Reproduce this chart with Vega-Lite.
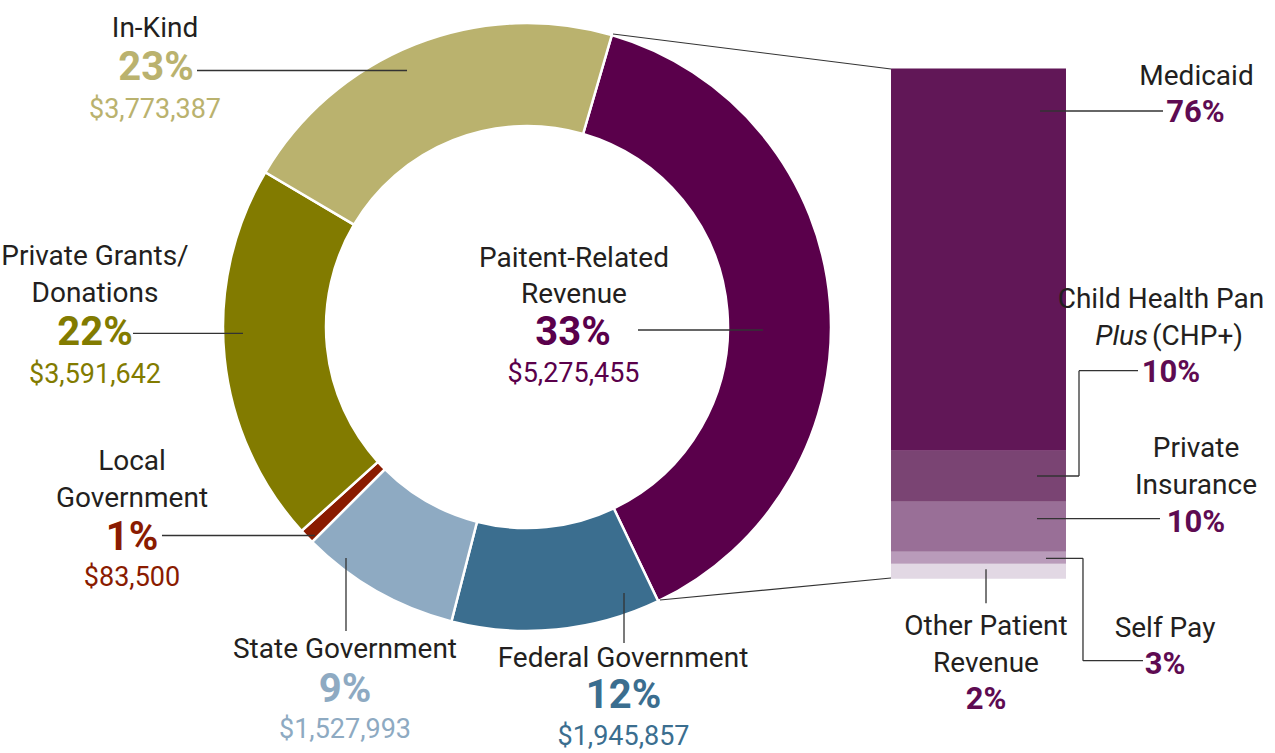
{
"$schema": "https://vega.github.io/schema/vega-lite/v6.json",
"width": 1275, "height": 753, "autosize": "none", "padding": 0, "background": "white",
"config": {"view": {"stroke": null}, "text": {"font": "Roboto", "align": "center", "baseline": "alphabetic", "lineBreak": "\n", "lineHeight": 37}, "rule": {"color": "#333333", "strokeWidth": 1.3}},
"datasets": {
"sources": [
{"k":1,"source":"Paitent-Related Revenue","label":"Paitent-Related\nRevenue","share":38.4,"pct":"33%","amount":"$5,275,455"},
{"k":2,"source":"Federal Government","label":"Federal Government","share":11.1,"pct":"12%","amount":"$1,945,857"},
{"k":3,"source":"State Government","label":"State Government","share":8.5,"pct":"9%","amount":"$1,527,993"},
{"k":4,"source":"Local Government","label":"Local\nGovernment","share":0.8,"pct":"1%","amount":"$83,500"},
{"k":5,"source":"Private Grants/Donations","label":"Private Grants/\nDonations","share":20.2,"pct":"22%","amount":"$3,591,642"},
{"k":6,"source":"In-Kind","label":"In-Kind","share":21.0,"pct":"23%","amount":"$3,773,387"}
],
"patient": [
{"k":1,"payer":"Other Patient Revenue","label":"Other Patient\nRevenue","share":2.95,"pct":"2%"},
{"k":2,"payer":"Self Pay","label":"Self Pay","share":2.35,"pct":"3%"},
{"k":3,"payer":"Private Insurance","label":"Private\nInsurance","share":9.8,"pct":"10%"},
{"k":4,"payer":"Child Health Pan Plus (CHP+)","label":"Child Health Pan","label_italic":"Plus","label_tail":"(CHP+)","share":10.0,"pct":"10%"},
{"k":5,"payer":"Medicaid","label":"Medicaid","share":74.9,"pct":"76%"}
]
},
"resolve": {"scale": {"y": "independent", "color": "independent"}},
"layer": [
{"data":{"name":"patient"},
 "transform":[{"stack":"share","groupby":[],"sort":[{"field":"k","order":"ascending"}],"as":["b0","b1"]}],
 "mark":{"type":"rect"},
 "encoding":{
  "x":{"datum":1.1974,"type":"quantitative","scale":{"domain":[-1.73355,2.46053],"nice":false,"zero":false},"axis":null},
  "x2":{"datum":1.7730},
  "y":{"field":"b0","type":"quantitative","scale":{"domain":[-34.165,113.424],"nice":false,"zero":false},"axis":null},
  "y2":{"field":"b1"},
  "color":{"field":"payer","type":"nominal","scale":{"domain":["Medicaid","Child Health Pan Plus (CHP+)","Private Insurance","Self Pay","Other Patient Revenue"],"range":["#611757","#7a4473","#996f97","#b99bba","#e2d8e4"]},"legend":null}
 }},
{"layer": [
{"data":{"name":"sources"},
 "transform":[{"stack":"share","groupby":[],"sort":[{"field":"k","order":"ascending"}],"as":["a0","a1"]}],
 "mark":{"type":"arc","radius":304,"radius2":201,"stroke":"white","strokeWidth":2.5},
 "encoding":{
  "x":{"datum":0,"type":"quantitative","scale":{"domain":[-1.73355,2.46053],"nice":false,"zero":false},"axis":null},
  "y":{"datum":0,"type":"quantitative","scale":{"domain":[-1.40132,1.07566],"nice":false,"zero":false},"axis":null},
  "theta":{"field":"a0","type":"quantitative","scale":{"domain":[0,100],"range":[0.2827,6.5659]}},
  "theta2":{"field":"a1"},
  "color":{"field":"source","type":"nominal","scale":{"domain":["Paitent-Related Revenue","Federal Government","State Government","Local Government","Private Grants/Donations","In-Kind"],"range":["#5a004b","#3b6e8f","#8eaac2","#8a1b00","#827b00","#bab26e"]},"legend":null}
 }},

{"data":{"name":"sources"},"transform":[{"filter":{"field":"source","equal":"In-Kind"}}],"mark":{"type":"rule"},"encoding":{"x":{"datum":-1.0855,"type":"quantitative","scale":{"domain":[-1.73355,2.46053],"nice":false,"zero":false},"axis":null},"x2":{"datum":-0.3947},"y":{"datum":0.8438,"type":"quantitative","scale":{"domain":[-1.40132,1.07566],"nice":false,"zero":false},"axis":null}}},
{"data":{"name":"sources"},"transform":[{"filter":{"field":"source","equal":"Private Grants/Donations"}}],"mark":{"type":"rule"},"encoding":{"x":{"datum":-1.2961,"type":"quantitative","scale":{"domain":[-1.73355,2.46053],"nice":false,"zero":false},"axis":null},"x2":{"datum":-0.9342},"y":{"datum":-0.0207,"type":"quantitative","scale":{"domain":[-1.40132,1.07566],"nice":false,"zero":false},"axis":null}}},
{"data":{"name":"sources"},"transform":[{"filter":{"field":"source","equal":"Local Government"}}],"mark":{"type":"rule"},"encoding":{"x":{"datum":-1.2007,"type":"quantitative","scale":{"domain":[-1.73355,2.46053],"nice":false,"zero":false},"axis":null},"x2":{"datum":-0.6974},"y":{"datum":-0.6859,"type":"quantitative","scale":{"domain":[-1.40132,1.07566],"nice":false,"zero":false},"axis":null}}},
{"data":{"name":"sources"},"transform":[{"filter":{"field":"source","equal":"State Government"}}],"mark":{"type":"rule"},"encoding":{"x":{"datum":-0.5954,"type":"quantitative","scale":{"domain":[-1.73355,2.46053],"nice":false,"zero":false},"axis":null},"y":{"datum":-0.7599,"type":"quantitative","scale":{"domain":[-1.40132,1.07566],"nice":false,"zero":false},"axis":null},"y2":{"datum":-1.0}}},
{"data":{"name":"sources"},"transform":[{"filter":{"field":"source","equal":"Federal Government"}}],"mark":{"type":"rule"},"encoding":{"x":{"datum":0.3191,"type":"quantitative","scale":{"domain":[-1.73355,2.46053],"nice":false,"zero":false},"axis":null},"y":{"datum":-0.8750,"type":"quantitative","scale":{"domain":[-1.40132,1.07566],"nice":false,"zero":false},"axis":null},"y2":{"datum":-1.0395}}},
{"data":{"name":"sources"},"transform":[{"filter":{"field":"source","equal":"Paitent-Related Revenue"}}],"mark":{"type":"rule"},"encoding":{"x":{"datum":0.3651,"type":"quantitative","scale":{"domain":[-1.73355,2.46053],"nice":false,"zero":false},"axis":null},"x2":{"datum":0.7763},"y":{"datum":-0.0099,"type":"quantitative","scale":{"domain":[-1.40132,1.07566],"nice":false,"zero":false},"axis":null}}},
{"data":{"name":"sources"},"transform":[{"filter":{"field":"source","equal":"Paitent-Related Revenue"}}],"mark":{"type":"rule","strokeWidth":1.2},"encoding":{"x":{"datum":0.2829,"type":"quantitative","scale":{"domain":[-1.73355,2.46053],"nice":false,"zero":false},"axis":null},"x2":{"datum":1.1974},"y":{"datum":0.9638,"type":"quantitative","scale":{"domain":[-1.40132,1.07566],"nice":false,"zero":false},"axis":null},"y2":{"datum":0.8487}}},
{"data":{"name":"sources"},"transform":[{"filter":{"field":"source","equal":"Paitent-Related Revenue"}}],"mark":{"type":"rule","strokeWidth":1.2},"encoding":{"x":{"datum":0.4375,"type":"quantitative","scale":{"domain":[-1.73355,2.46053],"nice":false,"zero":false},"axis":null},"x2":{"datum":1.1974},"y":{"datum":-0.8980,"type":"quantitative","scale":{"domain":[-1.40132,1.07566],"nice":false,"zero":false},"axis":null},"y2":{"datum":-0.8257}}},

{"data":{"name":"sources"},"transform":[{"filter":{"field":"source","equal":"In-Kind"}}],"mark":{"type":"text","fontSize":28,"color":"#231f20"},"encoding":{"x":{"datum":-1.2237,"type":"quantitative","scale":{"domain":[-1.73355,2.46053],"nice":false,"zero":false},"axis":null},"y":{"datum":0.9539,"type":"quantitative","scale":{"domain":[-1.40132,1.07566],"nice":false,"zero":false},"axis":null},"text":{"field":"label"}}},
{"data":{"name":"sources"},"transform":[{"filter":{"field":"source","equal":"In-Kind"}}],"mark":{"type":"text","fontSize":40,"fontWeight":"bold"},"encoding":{"x":{"datum":-1.2204,"type":"quantitative","scale":{"domain":[-1.73355,2.46053],"nice":false,"zero":false},"axis":null},"y":{"datum":0.8125,"type":"quantitative","scale":{"domain":[-1.40132,1.07566],"nice":false,"zero":false},"axis":null},"text":{"field":"pct"},"color":{"field":"source","type":"nominal","scale":{"domain":["Paitent-Related Revenue","Federal Government","State Government","Local Government","Private Grants/Donations","In-Kind"],"range":["#5a004b","#3b6e8f","#8eaac2","#8a1b00","#827b00","#bab26e"]},"legend":null}}},
{"data":{"name":"sources"},"transform":[{"filter":{"field":"source","equal":"In-Kind"}}],"mark":{"type":"text","fontSize":27},"encoding":{"x":{"datum":-1.2237,"type":"quantitative","scale":{"domain":[-1.73355,2.46053],"nice":false,"zero":false},"axis":null},"y":{"datum":0.6875,"type":"quantitative","scale":{"domain":[-1.40132,1.07566],"nice":false,"zero":false},"axis":null},"text":{"field":"amount"},"color":{"field":"source","type":"nominal","scale":{"domain":["Paitent-Related Revenue","Federal Government","State Government","Local Government","Private Grants/Donations","In-Kind"],"range":["#5a004b","#3b6e8f","#8eaac2","#8a1b00","#827b00","#bab26e"]},"legend":null}}},

{"data":{"name":"sources"},"transform":[{"filter":{"field":"source","equal":"Private Grants/Donations"}}],"mark":{"type":"text","fontSize":28,"color":"#231f20"},"encoding":{"x":{"datum":-1.4211,"type":"quantitative","scale":{"domain":[-1.73355,2.46053],"nice":false,"zero":false},"axis":null},"y":{"datum":0.2039,"type":"quantitative","scale":{"domain":[-1.40132,1.07566],"nice":false,"zero":false},"axis":null},"text":{"field":"label"}}},
{"data":{"name":"sources"},"transform":[{"filter":{"field":"source","equal":"Private Grants/Donations"}}],"mark":{"type":"text","fontSize":40,"fontWeight":"bold"},"encoding":{"x":{"datum":-1.4211,"type":"quantitative","scale":{"domain":[-1.73355,2.46053],"nice":false,"zero":false},"axis":null},"y":{"datum":-0.0592,"type":"quantitative","scale":{"domain":[-1.40132,1.07566],"nice":false,"zero":false},"axis":null},"text":{"field":"pct"},"color":{"field":"source","type":"nominal","scale":{"domain":["Paitent-Related Revenue","Federal Government","State Government","Local Government","Private Grants/Donations","In-Kind"],"range":["#5a004b","#3b6e8f","#8eaac2","#8a1b00","#827b00","#bab26e"]},"legend":null}}},
{"data":{"name":"sources"},"transform":[{"filter":{"field":"source","equal":"Private Grants/Donations"}}],"mark":{"type":"text","fontSize":27},"encoding":{"x":{"datum":-1.4211,"type":"quantitative","scale":{"domain":[-1.73355,2.46053],"nice":false,"zero":false},"axis":null},"y":{"datum":-0.1842,"type":"quantitative","scale":{"domain":[-1.40132,1.07566],"nice":false,"zero":false},"axis":null},"text":{"field":"amount"},"color":{"field":"source","type":"nominal","scale":{"domain":["Paitent-Related Revenue","Federal Government","State Government","Local Government","Private Grants/Donations","In-Kind"],"range":["#5a004b","#3b6e8f","#8eaac2","#8a1b00","#827b00","#bab26e"]},"legend":null}}},

{"data":{"name":"sources"},"transform":[{"filter":{"field":"source","equal":"Local Government"}}],"mark":{"type":"text","fontSize":28,"color":"#231f20"},"encoding":{"x":{"datum":-1.2993,"type":"quantitative","scale":{"domain":[-1.73355,2.46053],"nice":false,"zero":false},"axis":null},"y":{"datum":-0.4704,"type":"quantitative","scale":{"domain":[-1.40132,1.07566],"nice":false,"zero":false},"axis":null},"text":{"field":"label"}}},
{"data":{"name":"sources"},"transform":[{"filter":{"field":"source","equal":"Local Government"}}],"mark":{"type":"text","fontSize":40,"fontWeight":"bold"},"encoding":{"x":{"datum":-1.2993,"type":"quantitative","scale":{"domain":[-1.73355,2.46053],"nice":false,"zero":false},"axis":null},"y":{"datum":-0.7336,"type":"quantitative","scale":{"domain":[-1.40132,1.07566],"nice":false,"zero":false},"axis":null},"text":{"field":"pct"},"color":{"field":"source","type":"nominal","scale":{"domain":["Paitent-Related Revenue","Federal Government","State Government","Local Government","Private Grants/Donations","In-Kind"],"range":["#5a004b","#3b6e8f","#8eaac2","#8a1b00","#827b00","#bab26e"]},"legend":null}}},
{"data":{"name":"sources"},"transform":[{"filter":{"field":"source","equal":"Local Government"}}],"mark":{"type":"text","fontSize":27},"encoding":{"x":{"datum":-1.2993,"type":"quantitative","scale":{"domain":[-1.73355,2.46053],"nice":false,"zero":false},"axis":null},"y":{"datum":-0.8520,"type":"quantitative","scale":{"domain":[-1.40132,1.07566],"nice":false,"zero":false},"axis":null},"text":{"field":"amount"},"color":{"field":"source","type":"nominal","scale":{"domain":["Paitent-Related Revenue","Federal Government","State Government","Local Government","Private Grants/Donations","In-Kind"],"range":["#5a004b","#3b6e8f","#8eaac2","#8a1b00","#827b00","#bab26e"]},"legend":null}}},

{"data":{"name":"sources"},"transform":[{"filter":{"field":"source","equal":"State Government"}}],"mark":{"type":"text","fontSize":28,"color":"#231f20"},"encoding":{"x":{"datum":-0.5987,"type":"quantitative","scale":{"domain":[-1.73355,2.46053],"nice":false,"zero":false},"axis":null},"y":{"datum":-1.0888,"type":"quantitative","scale":{"domain":[-1.40132,1.07566],"nice":false,"zero":false},"axis":null},"text":{"field":"label"}}},
{"data":{"name":"sources"},"transform":[{"filter":{"field":"source","equal":"State Government"}}],"mark":{"type":"text","fontSize":40,"fontWeight":"bold"},"encoding":{"x":{"datum":-0.5987,"type":"quantitative","scale":{"domain":[-1.73355,2.46053],"nice":false,"zero":false},"axis":null},"y":{"datum":-1.2326,"type":"quantitative","scale":{"domain":[-1.40132,1.07566],"nice":false,"zero":false},"axis":null},"text":{"field":"pct"},"color":{"field":"source","type":"nominal","scale":{"domain":["Paitent-Related Revenue","Federal Government","State Government","Local Government","Private Grants/Donations","In-Kind"],"range":["#5a004b","#3b6e8f","#8eaac2","#8a1b00","#827b00","#bab26e"]},"legend":null}}},
{"data":{"name":"sources"},"transform":[{"filter":{"field":"source","equal":"State Government"}}],"mark":{"type":"text","fontSize":27},"encoding":{"x":{"datum":-0.5987,"type":"quantitative","scale":{"domain":[-1.73355,2.46053],"nice":false,"zero":false},"axis":null},"y":{"datum":-1.3520,"type":"quantitative","scale":{"domain":[-1.40132,1.07566],"nice":false,"zero":false},"axis":null},"text":{"field":"amount"},"color":{"field":"source","type":"nominal","scale":{"domain":["Paitent-Related Revenue","Federal Government","State Government","Local Government","Private Grants/Donations","In-Kind"],"range":["#5a004b","#3b6e8f","#8eaac2","#8a1b00","#827b00","#bab26e"]},"legend":null}}},

{"data":{"name":"sources"},"transform":[{"filter":{"field":"source","equal":"Federal Government"}}],"mark":{"type":"text","fontSize":28,"color":"#231f20"},"encoding":{"x":{"datum":0.3158,"type":"quantitative","scale":{"domain":[-1.73355,2.46053],"nice":false,"zero":false},"axis":null},"y":{"datum":-1.1184,"type":"quantitative","scale":{"domain":[-1.40132,1.07566],"nice":false,"zero":false},"axis":null},"text":{"field":"label"}}},
{"data":{"name":"sources"},"transform":[{"filter":{"field":"source","equal":"Federal Government"}}],"mark":{"type":"text","fontSize":40,"fontWeight":"bold"},"encoding":{"x":{"datum":0.3174,"type":"quantitative","scale":{"domain":[-1.73355,2.46053],"nice":false,"zero":false},"axis":null},"y":{"datum":-1.2520,"type":"quantitative","scale":{"domain":[-1.40132,1.07566],"nice":false,"zero":false},"axis":null},"text":{"field":"pct"},"color":{"field":"source","type":"nominal","scale":{"domain":["Paitent-Related Revenue","Federal Government","State Government","Local Government","Private Grants/Donations","In-Kind"],"range":["#5a004b","#3b6e8f","#8eaac2","#8a1b00","#827b00","#bab26e"]},"legend":null}}},
{"data":{"name":"sources"},"transform":[{"filter":{"field":"source","equal":"Federal Government"}}],"mark":{"type":"text","fontSize":27},"encoding":{"x":{"datum":0.3174,"type":"quantitative","scale":{"domain":[-1.73355,2.46053],"nice":false,"zero":false},"axis":null},"y":{"datum":-1.3750,"type":"quantitative","scale":{"domain":[-1.40132,1.07566],"nice":false,"zero":false},"axis":null},"text":{"field":"amount"},"color":{"field":"source","type":"nominal","scale":{"domain":["Paitent-Related Revenue","Federal Government","State Government","Local Government","Private Grants/Donations","In-Kind"],"range":["#5a004b","#3b6e8f","#8eaac2","#8a1b00","#827b00","#bab26e"]},"legend":null}}},

{"data":{"name":"sources"},"transform":[{"filter":{"field":"source","equal":"Paitent-Related Revenue"}}],"mark":{"type":"text","fontSize":28,"color":"#231f20","lineHeight":36},"encoding":{"x":{"datum":0.1546,"type":"quantitative","scale":{"domain":[-1.73355,2.46053],"nice":false,"zero":false},"axis":null},"y":{"datum":0.1974,"type":"quantitative","scale":{"domain":[-1.40132,1.07566],"nice":false,"zero":false},"axis":null},"text":{"field":"label"}}},
{"data":{"name":"sources"},"transform":[{"filter":{"field":"source","equal":"Paitent-Related Revenue"}}],"mark":{"type":"text","fontSize":40,"fontWeight":"bold"},"encoding":{"x":{"datum":0.1513,"type":"quantitative","scale":{"domain":[-1.73355,2.46053],"nice":false,"zero":false},"axis":null},"y":{"datum":-0.0592,"type":"quantitative","scale":{"domain":[-1.40132,1.07566],"nice":false,"zero":false},"axis":null},"text":{"field":"pct"},"color":{"field":"source","type":"nominal","scale":{"domain":["Paitent-Related Revenue","Federal Government","State Government","Local Government","Private Grants/Donations","In-Kind"],"range":["#5a004b","#3b6e8f","#8eaac2","#8a1b00","#827b00","#bab26e"]},"legend":null}}},
{"data":{"name":"sources"},"transform":[{"filter":{"field":"source","equal":"Paitent-Related Revenue"}}],"mark":{"type":"text","fontSize":27},"encoding":{"x":{"datum":0.1530,"type":"quantitative","scale":{"domain":[-1.73355,2.46053],"nice":false,"zero":false},"axis":null},"y":{"datum":-0.1809,"type":"quantitative","scale":{"domain":[-1.40132,1.07566],"nice":false,"zero":false},"axis":null},"text":{"field":"amount"},"color":{"field":"source","type":"nominal","scale":{"domain":["Paitent-Related Revenue","Federal Government","State Government","Local Government","Private Grants/Donations","In-Kind"],"range":["#5a004b","#3b6e8f","#8eaac2","#8a1b00","#827b00","#bab26e"]},"legend":null}}},

{"data":{"name":"patient"},"transform":[{"filter":{"field":"payer","equal":"Medicaid"}}],"mark":{"type":"rule"},"encoding":{"x":{"datum":1.6875,"type":"quantitative","scale":{"domain":[-1.73355,2.46053],"nice":false,"zero":false},"axis":null},"x2":{"datum":2.0921},"y":{"datum":0.7105,"type":"quantitative","scale":{"domain":[-1.40132,1.07566],"nice":false,"zero":false},"axis":null}}},
{"data":{"name":"patient"},"transform":[{"filter":{"field":"payer","equal":"Child Health Pan Plus (CHP+)"}}],"mark":{"type":"rule"},"encoding":{"x":{"datum":1.6776,"type":"quantitative","scale":{"domain":[-1.73355,2.46053],"nice":false,"zero":false},"axis":null},"x2":{"datum":1.8158},"y":{"datum":-0.4901,"type":"quantitative","scale":{"domain":[-1.40132,1.07566],"nice":false,"zero":false},"axis":null}}},
{"data":{"name":"patient"},"transform":[{"filter":{"field":"payer","equal":"Child Health Pan Plus (CHP+)"}}],"mark":{"type":"rule"},"encoding":{"x":{"datum":1.8158,"type":"quantitative","scale":{"domain":[-1.73355,2.46053],"nice":false,"zero":false},"axis":null},"y":{"datum":-0.4901,"type":"quantitative","scale":{"domain":[-1.40132,1.07566],"nice":false,"zero":false},"axis":null},"y2":{"datum":-0.1438}}},
{"data":{"name":"patient"},"transform":[{"filter":{"field":"payer","equal":"Child Health Pan Plus (CHP+)"}}],"mark":{"type":"rule"},"encoding":{"x":{"datum":1.8158,"type":"quantitative","scale":{"domain":[-1.73355,2.46053],"nice":false,"zero":false},"axis":null},"x2":{"datum":2.0099},"y":{"datum":-0.1438,"type":"quantitative","scale":{"domain":[-1.40132,1.07566],"nice":false,"zero":false},"axis":null}}},
{"data":{"name":"patient"},"transform":[{"filter":{"field":"payer","equal":"Private Insurance"}}],"mark":{"type":"rule"},"encoding":{"x":{"datum":1.6776,"type":"quantitative","scale":{"domain":[-1.73355,2.46053],"nice":false,"zero":false},"axis":null},"x2":{"datum":2.0822},"y":{"datum":-0.6306,"type":"quantitative","scale":{"domain":[-1.40132,1.07566],"nice":false,"zero":false},"axis":null}}},
{"data":{"name":"patient"},"transform":[{"filter":{"field":"payer","equal":"Self Pay"}}],"mark":{"type":"rule"},"encoding":{"x":{"datum":1.7072,"type":"quantitative","scale":{"domain":[-1.73355,2.46053],"nice":false,"zero":false},"axis":null},"x2":{"datum":1.8289},"y":{"datum":-0.7609,"type":"quantitative","scale":{"domain":[-1.40132,1.07566],"nice":false,"zero":false},"axis":null}}},
{"data":{"name":"patient"},"transform":[{"filter":{"field":"payer","equal":"Self Pay"}}],"mark":{"type":"rule"},"encoding":{"x":{"datum":1.8289,"type":"quantitative","scale":{"domain":[-1.73355,2.46053],"nice":false,"zero":false},"axis":null},"y":{"datum":-0.7609,"type":"quantitative","scale":{"domain":[-1.40132,1.07566],"nice":false,"zero":false},"axis":null},"y2":{"datum":-1.0977}}},
{"data":{"name":"patient"},"transform":[{"filter":{"field":"payer","equal":"Self Pay"}}],"mark":{"type":"rule"},"encoding":{"x":{"datum":1.8289,"type":"quantitative","scale":{"domain":[-1.73355,2.46053],"nice":false,"zero":false},"axis":null},"x2":{"datum":2.0263},"y":{"datum":-1.0977,"type":"quantitative","scale":{"domain":[-1.40132,1.07566],"nice":false,"zero":false},"axis":null}}},
{"data":{"name":"patient"},"transform":[{"filter":{"field":"payer","equal":"Other Patient Revenue"}}],"mark":{"type":"rule"},"encoding":{"x":{"datum":1.5099,"type":"quantitative","scale":{"domain":[-1.73355,2.46053],"nice":false,"zero":false},"axis":null},"y":{"datum":-0.7970,"type":"quantitative","scale":{"domain":[-1.40132,1.07566],"nice":false,"zero":false},"axis":null},"y2":{"datum":-0.9089}}},

{"data":{"name":"patient"},"transform":[{"filter":{"field":"payer","equal":"Medicaid"}}],"mark":{"type":"text","fontSize":28,"color":"#231f20"},"encoding":{"x":{"datum":2.2023,"type":"quantitative","scale":{"domain":[-1.73355,2.46053],"nice":false,"zero":false},"axis":null},"y":{"datum":0.7961,"type":"quantitative","scale":{"domain":[-1.40132,1.07566],"nice":false,"zero":false},"axis":null},"text":{"field":"label"}}},
{"data":{"name":"patient"},"transform":[{"filter":{"field":"payer","equal":"Medicaid"}}],"mark":{"type":"text","fontSize":31,"fontWeight":"bold","color":"#5e0b52"},"encoding":{"x":{"datum":2.1990,"type":"quantitative","scale":{"domain":[-1.73355,2.46053],"nice":false,"zero":false},"axis":null},"y":{"datum":0.6753,"type":"quantitative","scale":{"domain":[-1.40132,1.07566],"nice":false,"zero":false},"axis":null},"text":{"field":"pct"}}},

{"data":{"name":"patient"},"transform":[{"filter":{"field":"payer","equal":"Child Health Pan Plus (CHP+)"}}],"mark":{"type":"text","fontSize":28,"color":"#231f20"},"encoding":{"x":{"datum":2.0855,"type":"quantitative","scale":{"domain":[-1.73355,2.46053],"nice":false,"zero":false},"axis":null},"y":{"datum":0.0625,"type":"quantitative","scale":{"domain":[-1.40132,1.07566],"nice":false,"zero":false},"axis":null},"text":{"field":"label"}}},
{"data":{"name":"patient"},"transform":[{"filter":{"field":"payer","equal":"Child Health Pan Plus (CHP+)"}}],"mark":{"type":"text","fontSize":28,"color":"#231f20","fontStyle":"italic","align":"right"},"encoding":{"x":{"datum":2.0428,"type":"quantitative","scale":{"domain":[-1.73355,2.46053],"nice":false,"zero":false},"axis":null},"y":{"datum":-0.0592,"type":"quantitative","scale":{"domain":[-1.40132,1.07566],"nice":false,"zero":false},"axis":null},"text":{"field":"label_italic"}}},
{"data":{"name":"patient"},"transform":[{"filter":{"field":"payer","equal":"Child Health Pan Plus (CHP+)"}}],"mark":{"type":"text","fontSize":28,"color":"#231f20","align":"left"},"encoding":{"x":{"datum":2.0559,"type":"quantitative","scale":{"domain":[-1.73355,2.46053],"nice":false,"zero":false},"axis":null},"y":{"datum":-0.0592,"type":"quantitative","scale":{"domain":[-1.40132,1.07566],"nice":false,"zero":false},"axis":null},"text":{"field":"label_tail"}}},
{"data":{"name":"patient"},"transform":[{"filter":{"field":"payer","equal":"Child Health Pan Plus (CHP+)"}}],"mark":{"type":"text","fontSize":31,"fontWeight":"bold","color":"#5e0b52"},"encoding":{"x":{"datum":2.1184,"type":"quantitative","scale":{"domain":[-1.73355,2.46053],"nice":false,"zero":false},"axis":null},"y":{"datum":-0.1799,"type":"quantitative","scale":{"domain":[-1.40132,1.07566],"nice":false,"zero":false},"axis":null},"text":{"field":"pct"}}},

{"data":{"name":"patient"},"transform":[{"filter":{"field":"payer","equal":"Private Insurance"}}],"mark":{"type":"text","fontSize":28,"color":"#231f20"},"encoding":{"x":{"datum":2.2007,"type":"quantitative","scale":{"domain":[-1.73355,2.46053],"nice":false,"zero":false},"axis":null},"y":{"datum":-0.4276,"type":"quantitative","scale":{"domain":[-1.40132,1.07566],"nice":false,"zero":false},"axis":null},"text":{"field":"label"}}},
{"data":{"name":"patient"},"transform":[{"filter":{"field":"payer","equal":"Private Insurance"}}],"mark":{"type":"text","fontSize":31,"fontWeight":"bold","color":"#5e0b52"},"encoding":{"x":{"datum":2.2007,"type":"quantitative","scale":{"domain":[-1.73355,2.46053],"nice":false,"zero":false},"axis":null},"y":{"datum":-0.6734,"type":"quantitative","scale":{"domain":[-1.40132,1.07566],"nice":false,"zero":false},"axis":null},"text":{"field":"pct"}}},

{"data":{"name":"patient"},"transform":[{"filter":{"field":"payer","equal":"Self Pay"}}],"mark":{"type":"text","fontSize":28,"color":"#231f20"},"encoding":{"x":{"datum":2.0987,"type":"quantitative","scale":{"domain":[-1.73355,2.46053],"nice":false,"zero":false},"axis":null},"y":{"datum":-1.0188,"type":"quantitative","scale":{"domain":[-1.40132,1.07566],"nice":false,"zero":false},"axis":null},"text":{"field":"label"}}},
{"data":{"name":"patient"},"transform":[{"filter":{"field":"payer","equal":"Self Pay"}}],"mark":{"type":"text","fontSize":31,"fontWeight":"bold","color":"#5e0b52"},"encoding":{"x":{"datum":2.0987,"type":"quantitative","scale":{"domain":[-1.73355,2.46053],"nice":false,"zero":false},"axis":null},"y":{"datum":-1.1414,"type":"quantitative","scale":{"domain":[-1.40132,1.07566],"nice":false,"zero":false},"axis":null},"text":{"field":"pct"}}},

{"data":{"name":"patient"},"transform":[{"filter":{"field":"payer","equal":"Other Patient Revenue"}}],"mark":{"type":"text","fontSize":28,"color":"#231f20"},"encoding":{"x":{"datum":1.5099,"type":"quantitative","scale":{"domain":[-1.73355,2.46053],"nice":false,"zero":false},"axis":null},"y":{"datum":-1.0132,"type":"quantitative","scale":{"domain":[-1.40132,1.07566],"nice":false,"zero":false},"axis":null},"text":{"field":"label"}}},
{"data":{"name":"patient"},"transform":[{"filter":{"field":"payer","equal":"Other Patient Revenue"}}],"mark":{"type":"text","fontSize":31,"fontWeight":"bold","color":"#5e0b52"},"encoding":{"x":{"datum":1.5099,"type":"quantitative","scale":{"domain":[-1.73355,2.46053],"nice":false,"zero":false},"axis":null},"y":{"datum":-1.2566,"type":"quantitative","scale":{"domain":[-1.40132,1.07566],"nice":false,"zero":false},"axis":null},"text":{"field":"pct"}}}
]}
]
}
